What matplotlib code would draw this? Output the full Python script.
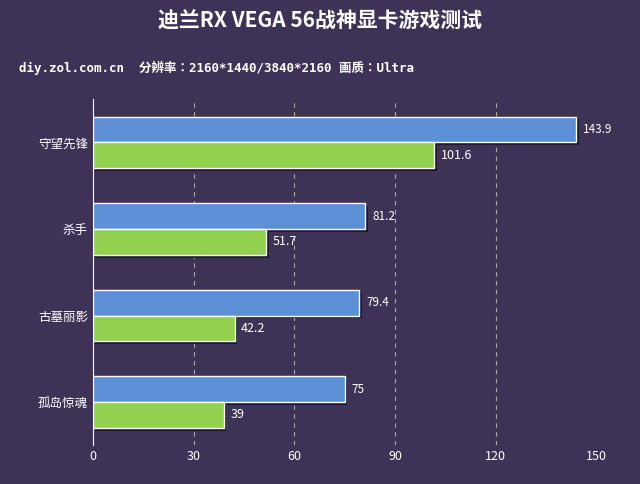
import numpy as np
import matplotlib.pyplot as plt
from matplotlib import font_manager
names = {f.name for f in font_manager.fontManager.ttflist}
cjk = [n for n in ['Noto Sans CJK SC', 'Noto Sans CJK JP', 'Noto Sans CJK TC', 'Noto Sans CJK KR']
       if n in names]
plt.rcParams['font.family'] = cjk + ['DejaVu Sans']

games = ['守望先锋', '杀手', '古墓丽影', '孤岛惊魂']
blue_vals = [143.9, 81.2, 79.4, 75]
green_vals = [101.6, 51.7, 42.2, 39]
ticks = [0, 30, 60, 90, 120, 150]

bg = '#3e3256'
fig = plt.figure(figsize=(6.4, 4.84), dpi=100, facecolor=bg)
ax = fig.add_axes([0.145, 0.08, 0.787, 0.715], facecolor=bg)

y = np.arange(len(games))
h = 0.3
for yy, b, g in zip(y, blue_vals, green_vals):
    # shadows
    ax.barh(yy - h / 2 + 0.03, b, h, left=0.8, color='#1e1830', zorder=2)
    ax.barh(yy + h / 2 + 0.03, g, h, left=0.8, color='#1e1830', zorder=2)
    ax.barh(yy - h / 2, b, h, color='#5b8fd6', edgecolor='white', lw=1, zorder=3)
    ax.barh(yy + h / 2, g, h, color='#92d050', edgecolor='white', lw=1, zorder=3)
    ax.text(b + 2, yy - h / 2, f'{b:g}', color='white', va='center', fontsize=8.5, zorder=4)
    ax.text(g + 2, yy + h / 2, f'{g:g}', color='white', va='center', fontsize=9, zorder=4)

ax.set_xlim(0, 150)
ax.set_ylim(len(games) - 0.5, -0.5)
ax.set_xticks(ticks)
ax.set_yticks(y)
ax.set_yticklabels(games)
ax.tick_params(colors='white', labelsize=9, length=0)
ax.grid(axis='x', color='#aaaaaa', ls=(0, (4, 4)), lw=0.8, zorder=0)
for s in ['top', 'right', 'bottom']:
    ax.spines[s].set_visible(False)
ax.spines['left'].set_color('white')

fig.text(0.5, 0.955, '迪兰RX VEGA 56战神显卡游戏测试', color='white', fontsize=15,
         fontweight='bold', ha='center', va='center')
fig.text(0.03, 0.86, 'diy.zol.com.cn  分辨率：2160*1440/3840*2160 画质：Ultra', color='white',
         fontsize=9, ha='left', va='center', fontweight='bold', family=['DejaVu Sans Mono'] + cjk)

fig.savefig('out.png', dpi=100, facecolor=bg)
